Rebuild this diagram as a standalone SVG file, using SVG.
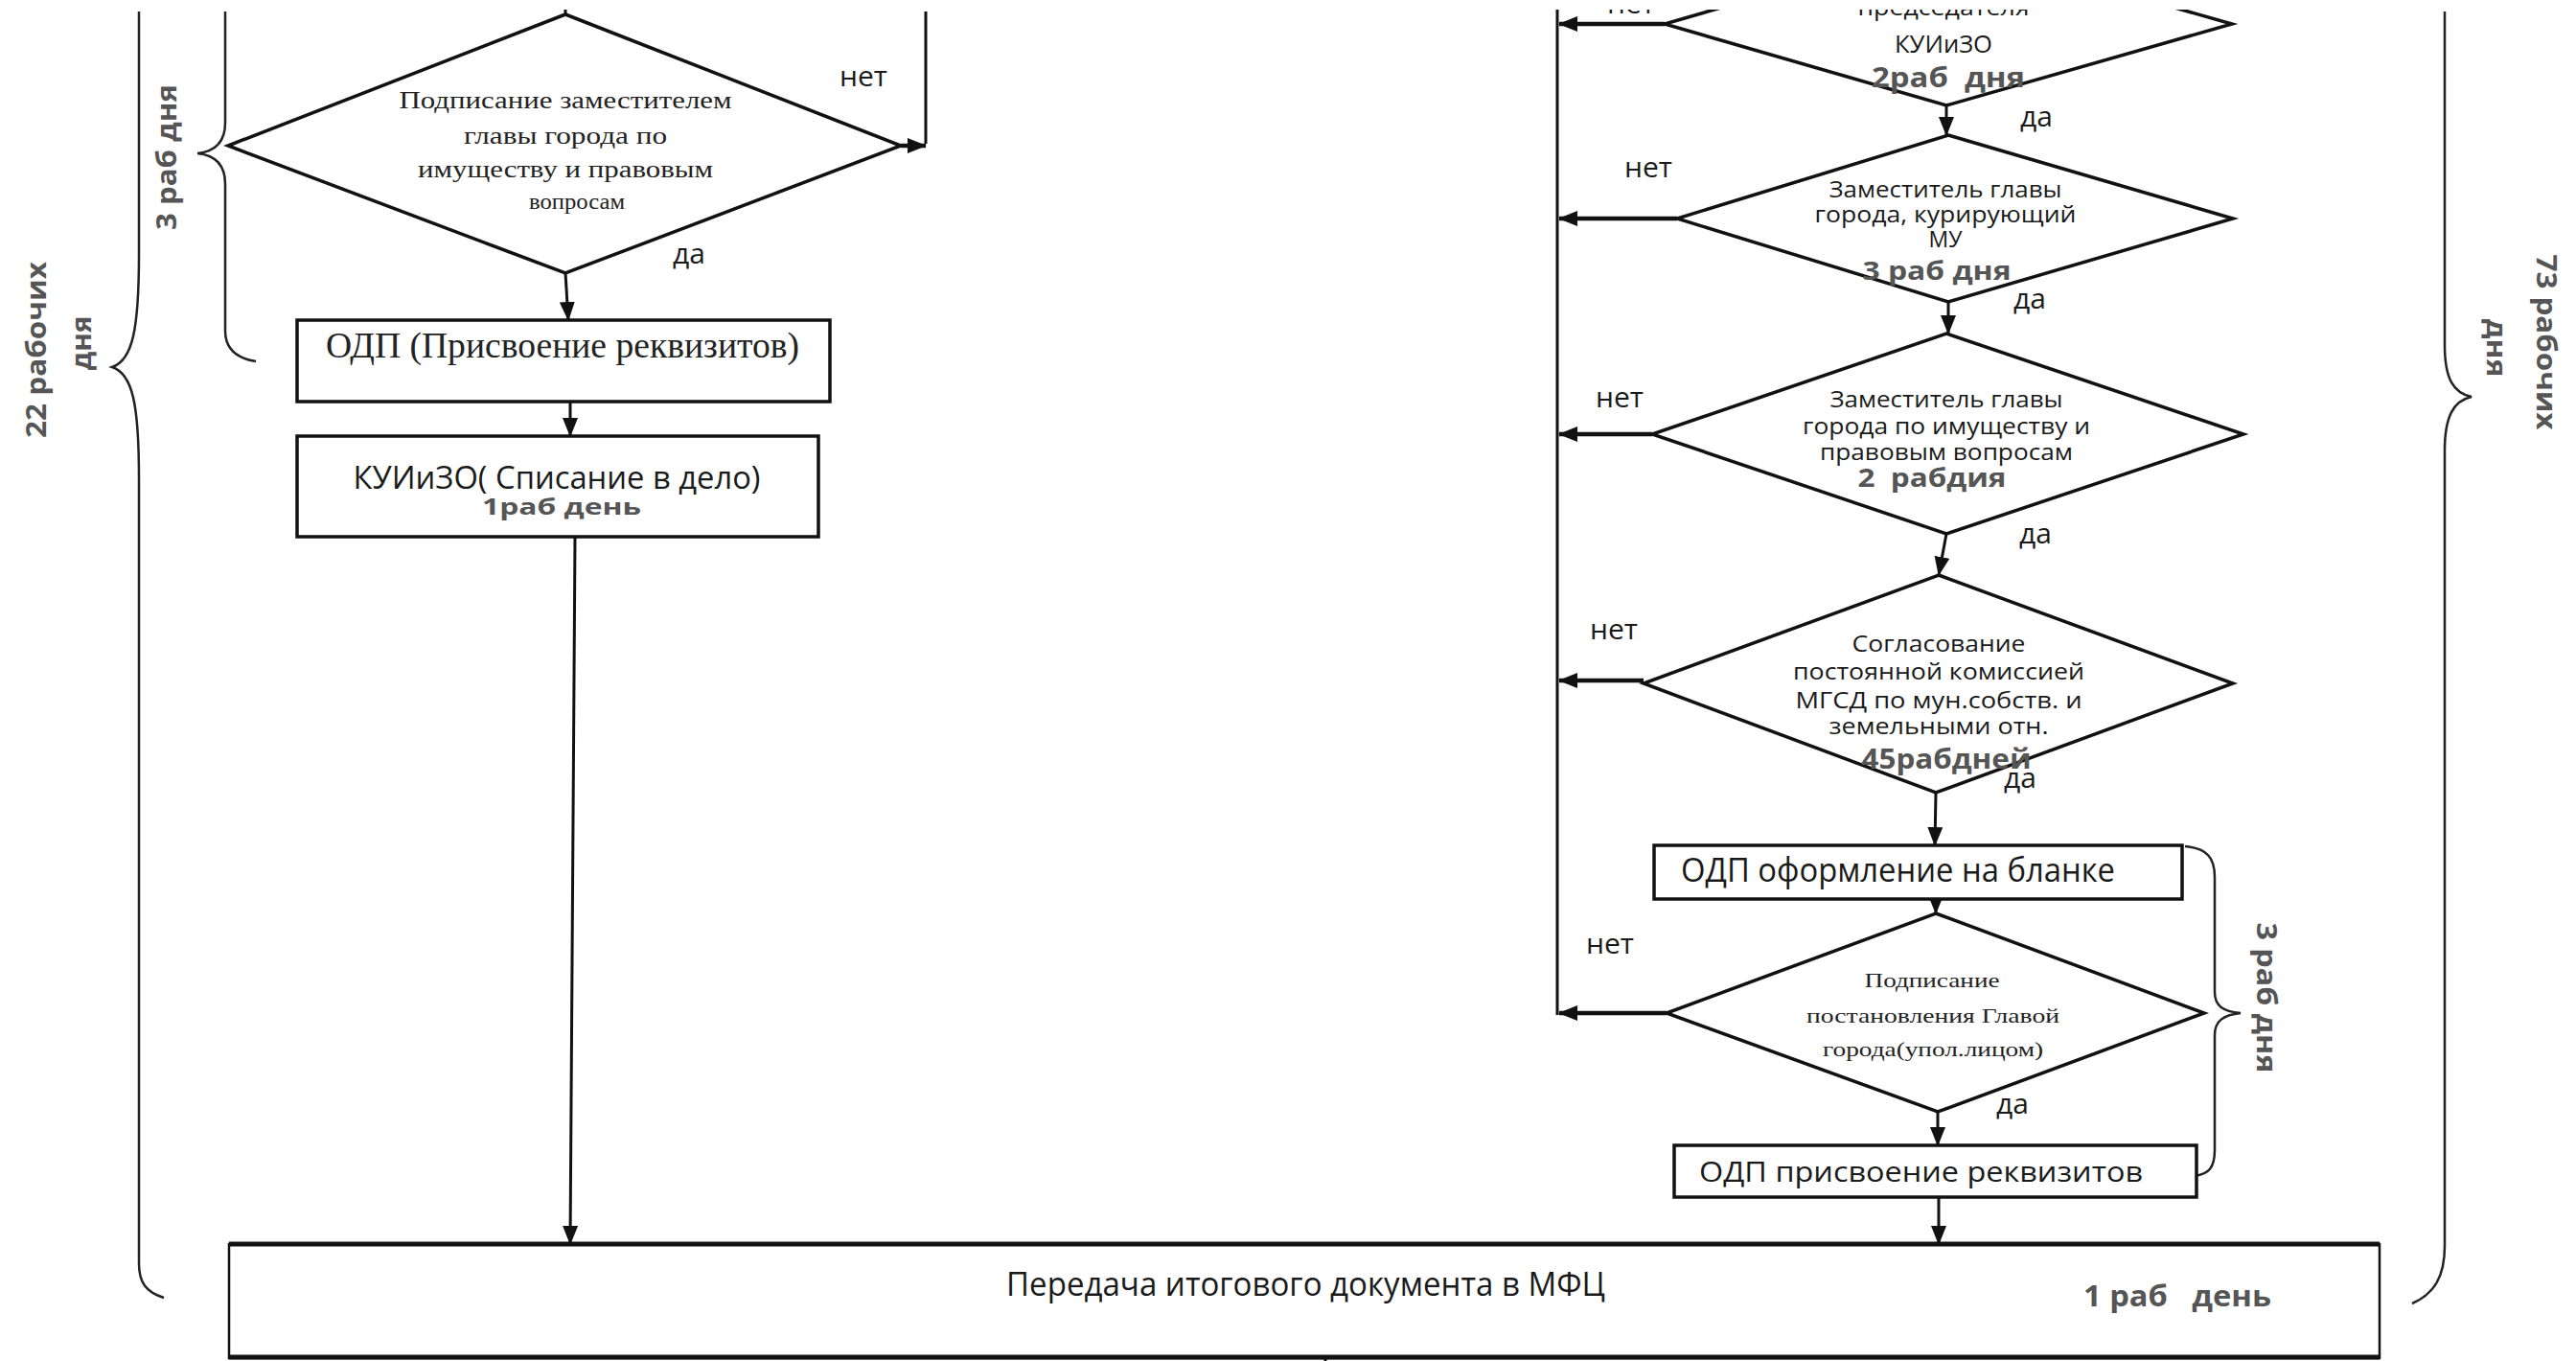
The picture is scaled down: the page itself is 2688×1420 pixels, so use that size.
<svg xmlns="http://www.w3.org/2000/svg" width="2688" height="1420" viewBox="0 0 2688 1420">
<style>
.shape{fill:none;stroke:#111;stroke-width:3.5;stroke-linejoin:miter}
.box{fill:#fff;stroke:#111;stroke-width:3.5}
.ln{fill:none;stroke:#111;stroke-width:3}
.no{fill:none;stroke:#111;stroke-width:4.5}
.br{fill:none;stroke:#222;stroke-width:2.5}
.serif{font-family:"Liberation Serif","Times New Roman",serif;fill:#222;text-anchor:middle}
.sans{font-family:"Open Sans","Noto Sans","DejaVu Sans",sans-serif;fill:#1a1a1a}
.mid{text-anchor:middle}
.dur{font-family:"Open Sans","Noto Sans","DejaVu Sans",sans-serif;font-weight:bold;fill:#555;text-anchor:middle}
.lbl{font-family:"Open Sans","Noto Sans","DejaVu Sans",sans-serif;fill:#1a1a1a;font-size:30px}
</style>
<defs>
<marker id="ah" viewBox="0 0 20 16" refX="19" refY="8" markerWidth="20" markerHeight="16" markerUnits="userSpaceOnUse" orient="auto">
<path d="M0 0 L20 8 L0 16 z" fill="#111"/>
</marker>
</defs>
<rect x="0" y="0" width="2688" height="1420" fill="#fff"/>

<g id="braces">
<path class="br" d="M145 12 V265 C145 345 138 376 117 383 C138 390 145 420 145 500 V1318 C145 1338 152 1348 171 1354"/>
<path class="br" d="M235 12 V128 Q235 157 206 160 Q235 163 235 192 V345 Q235 372 267 377"/>
<path class="br" d="M2551 12 V360 C2551 395 2560 410 2579 414 C2560 418 2551 435 2551 470 V1300 C2551 1332 2540 1350 2517 1360"/>
<path class="br" d="M2280 883 C2303 885 2311 895 2311 915 V1035 C2311 1050 2320 1055 2338 1057 C2320 1059 2311 1065 2311 1080 V1200 C2311 1218 2305 1225 2290 1227"/>
<text class="dur" font-size="28" textLength="184" lengthAdjust="spacingAndGlyphs" dominant-baseline="central" transform="translate(37 365) rotate(-90)">22 рабочих</text>
<text class="dur" font-size="28" textLength="57" lengthAdjust="spacingAndGlyphs" dominant-baseline="central" transform="translate(84 358) rotate(-90)">дня</text>
<text class="dur" font-size="28" textLength="152" lengthAdjust="spacingAndGlyphs" dominant-baseline="central" transform="translate(173 164) rotate(-90)">3 раб дня</text>
<text class="dur" font-size="28" textLength="183" lengthAdjust="spacingAndGlyphs" dominant-baseline="central" transform="translate(2658 357) rotate(90)">73 рабочих</text>
<text class="dur" font-size="28" textLength="61" lengthAdjust="spacingAndGlyphs" dominant-baseline="central" transform="translate(2606 363) rotate(90)">дня</text>
<text class="dur" font-size="28" textLength="157" lengthAdjust="spacingAndGlyphs" dominant-baseline="central" transform="translate(2366 1041) rotate(90)">3 раб дня</text>
</g>

<g id="connectors">
<path class="ln" d="M590 10 V15"/>
<path class="ln" d="M590 285 L593 334" marker-end="url(#ah)"/>
<path class="ln" d="M595 419 V455" marker-end="url(#ah)"/>
<path class="ln" d="M600 560 L595 1298" marker-end="url(#ah)"/>
<path class="no" d="M940 152 H966" marker-end="url(#ah)"/>
<path class="ln" d="M966 12 V150"/>
<path class="ln" d="M1625 10 V1059"/>
<path class="no" d="M1737 25 H1627" marker-end="url(#ah)"/>
<path class="no" d="M1750 228 H1627" marker-end="url(#ah)"/>
<path class="no" d="M1724 453 H1627" marker-end="url(#ah)"/>
<path class="no" d="M1715 710 H1627" marker-end="url(#ah)"/>
<path class="no" d="M1739 1057 H1627" marker-end="url(#ah)"/>
<path class="ln" d="M2031 110 V141" marker-end="url(#ah)"/>
<path class="ln" d="M2033 315 V348" marker-end="url(#ah)"/>
<path class="ln" d="M2031 557 L2023 600" marker-end="url(#ah)"/>
<path class="ln" d="M2020 827 L2019 882" marker-end="url(#ah)"/>
<path class="ln" d="M2020 938 V953" marker-end="url(#ah)"/>
<path class="ln" d="M2022 1160 V1195" marker-end="url(#ah)"/>
<path class="ln" d="M2023 1249 V1298" marker-end="url(#ah)"/>
<path class="ln" d="M1383 1412 V1420"/>
<text class="lbl" x="876" y="90">нет</text>
<text class="lbl" x="702" y="275">да</text>
<text class="lbl" x="1677" y="14">нет</text>
<text class="lbl" x="1695" y="185">нет</text>
<text class="lbl" x="1665" y="425">нет</text>
<text class="lbl" x="1659" y="667">нет</text>
<text class="lbl" x="1655" y="995">нет</text>
<text class="lbl" x="2108" y="132">да</text>
<text class="lbl" x="2101" y="322">да</text>
<text class="lbl" x="2107" y="567">да</text>
<text class="lbl" x="2091" y="822">да</text>
<text class="lbl" x="2083" y="1162">да</text>
</g>

<g id="node-sign-deputy-property">
<polygon class="shape" points="590,15 940,152 590,285 238,152"/>
<text class="serif" font-size="25" x="590" y="113" textLength="347" lengthAdjust="spacingAndGlyphs">Подписание заместителем</text>
<text class="serif" font-size="25" x="590" y="150" textLength="212" lengthAdjust="spacingAndGlyphs">главы города по</text>
<text class="serif" font-size="25" x="590" y="185" textLength="308" lengthAdjust="spacingAndGlyphs">имуществу и правовым</text>
<text class="serif" font-size="23" x="602" y="218" textLength="100" lengthAdjust="spacingAndGlyphs">вопросам</text>
</g>

<g id="node-odp-requisites-left">
<rect class="box" x="310" y="334" width="556" height="85"/>
<text class="serif" font-size="38" x="587" y="373" textLength="494" lengthAdjust="spacingAndGlyphs">ОДП (Присвоение реквизитов)</text>
</g>

<g id="node-kuiizo-archive">
<rect class="box" x="310" y="455" width="544" height="105"/>
<text class="sans mid" font-size="32" x="581" y="510" textLength="425" lengthAdjust="spacingAndGlyphs">КУИиЗО( Списание в дело)</text>
<text class="dur" font-size="24" x="586" y="537" textLength="166" lengthAdjust="spacingAndGlyphs">1раб день</text>
</g>

<g id="node-chairman-kuiizo">
<polygon class="shape" points="2031,-60 2329,25 2031,110 1737,25"/>
<text class="sans mid" font-size="24" x="2028" y="16" textLength="179" lengthAdjust="spacingAndGlyphs">председателя</text>
<text class="sans mid" font-size="26" x="2028" y="55" textLength="102" lengthAdjust="spacingAndGlyphs">КУИиЗО</text>
<text class="dur" font-size="28" x="2033" y="91" textLength="160" lengthAdjust="spacingAndGlyphs" xml:space="preserve">2раб  дня</text>
</g>

<g id="node-deputy-mu">
<polygon class="shape" points="2033,141 2330,228 2033,315 1750,228"/>
<text class="sans mid" font-size="23" x="2030" y="206" textLength="243" lengthAdjust="spacingAndGlyphs">Заместитель главы</text>
<text class="sans mid" font-size="23" x="2030" y="232" textLength="273" lengthAdjust="spacingAndGlyphs">города, курирующий</text>
<text class="sans mid" font-size="23" x="2030" y="258">МУ</text>
<text class="dur" font-size="27" x="2021" y="292" textLength="155" lengthAdjust="spacingAndGlyphs">3 раб дня</text>
</g>

<g id="node-deputy-property">
<polygon class="shape" points="2031,348 2341,453 2031,557 1724,453"/>
<text class="sans mid" font-size="23" x="2031" y="425" textLength="243" lengthAdjust="spacingAndGlyphs">Заместитель главы</text>
<text class="sans mid" font-size="23" x="2031" y="453" textLength="300" lengthAdjust="spacingAndGlyphs">города по имуществу и</text>
<text class="sans mid" font-size="23" x="2031" y="480" textLength="264" lengthAdjust="spacingAndGlyphs">правовым вопросам</text>
<text class="dur" font-size="27" x="2016" y="508" textLength="155" lengthAdjust="spacingAndGlyphs" xml:space="preserve">2  рабдия</text>
</g>

<g id="node-commission">
<polygon class="shape" points="2023,600 2330,713 2020,827 1715,713"/>
<text class="sans mid" font-size="24" x="2023" y="680" textLength="181" lengthAdjust="spacingAndGlyphs">Согласование</text>
<text class="sans mid" font-size="24" x="2023" y="709" textLength="304" lengthAdjust="spacingAndGlyphs">постоянной комиссией</text>
<text class="sans mid" font-size="24" x="2023" y="739" textLength="299" lengthAdjust="spacingAndGlyphs">МГСД по мун.собств. и</text>
<text class="sans mid" font-size="24" x="2023" y="766" textLength="229" lengthAdjust="spacingAndGlyphs">земельными отн.</text>
<text class="dur" font-size="28" x="2031" y="802" textLength="177" lengthAdjust="spacingAndGlyphs">45рабдней</text>
</g>

<g id="node-odp-blank">
<rect class="box" x="1726" y="882" width="551" height="56"/>
<text class="sans" font-size="35" x="1754" y="920" textLength="453" lengthAdjust="spacingAndGlyphs">ОДП оформление на бланке</text>
</g>

<g id="node-sign-head">
<polygon class="shape" points="2020,953 2300,1057 2022,1160 1739,1057"/>
<text class="serif" font-size="22" x="2016" y="1030" textLength="141" lengthAdjust="spacingAndGlyphs">Подписание</text>
<text class="serif" font-size="22" x="2017" y="1067" textLength="264" lengthAdjust="spacingAndGlyphs">постановления Главой</text>
<text class="serif" font-size="22" x="2017" y="1102" textLength="230" lengthAdjust="spacingAndGlyphs">города(упол.лицом)</text>
</g>

<g id="node-odp-requisites-right">
<rect class="box" x="1747" y="1195" width="545" height="54"/>
<text class="sans" font-size="30" x="1773" y="1233" textLength="463" lengthAdjust="spacingAndGlyphs">ОДП присвоение реквизитов</text>
</g>

<g id="node-transfer-mfc">
<rect x="239" y="1298" width="2244" height="119" fill="#fff" stroke="#111" stroke-width="2.5"/>
<path d="M239 1298 H2483 M239 1416 H2483" stroke="#111" stroke-width="5" fill="none"/>
<text class="sans" font-size="35" x="1050" y="1352" textLength="625" lengthAdjust="spacingAndGlyphs">Передача итогового документа в МФЦ</text>
<text class="dur" font-size="31" x="2272" y="1363" textLength="196" lengthAdjust="spacingAndGlyphs" xml:space="preserve">1 раб   день</text>
</g>

<rect x="0" y="0" width="2688" height="10" fill="#fff"/>
</svg>
